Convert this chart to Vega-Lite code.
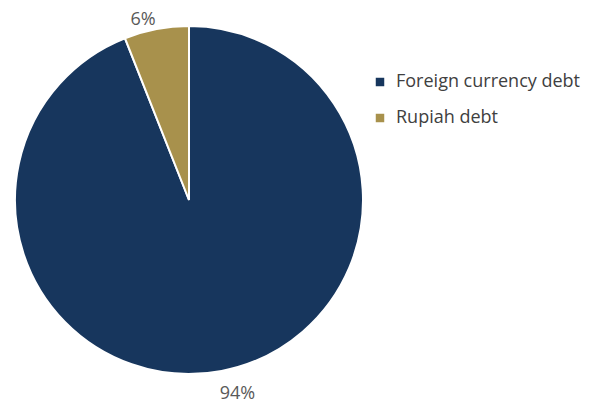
{
  "$schema": "https://vega.github.io/schema/vega-lite/v6.json",
  "width": 378,
  "height": 400,
  "padding": {"left": 0, "top": 0, "right": 219, "bottom": 5},
  "autosize": {"type": "none"},
  "background": "white",
  "data": {"values": [
    {"category": "Foreign currency debt", "value": 94, "label": "94%"},
    {"category": "Rupiah debt", "value": 6, "label": "6%"}
  ]},
  "encoding": {
    "theta": {"field": "value", "type": "quantitative", "stack": true, "sort": "ascending"}
  },
  "layer": [
    {
      "mark": {"type": "arc", "outerRadius": 174, "stroke": "white", "strokeWidth": 2},
      "encoding": {
        "color": {
          "field": "category", "type": "nominal",
          "scale": {"domain": ["Foreign currency debt", "Rupiah debt"], "range": ["#17365D", "#A8914C"]},
          "legend": {
            "title": null, "orient": "none", "legendX": 371, "legendY": 73,
            "symbolType": "square", "symbolSize": 72, "symbolStrokeWidth": 0,
            "labelFont": "Open Sans", "labelFontSize": 18, "labelColor": "#404040",
            "rowPadding": 18, "labelOffset": 7, "padding": 0, "labelLimit": 300
          }
        }
      }
    },
    {
      "mark": {"type": "text", "radius": 186, "font": "Open Sans", "fontSize": 18, "color": "#595959", "dx": -11, "dy": 3},
      "encoding": {
        "text": {"condition": {"test": "datum.category == 'Rupiah debt'", "field": "label"}, "value": ""},
        "order": {"field": "category"}
      }
    },
    {
      "mark": {"type": "text", "radius": 200, "font": "Open Sans", "fontSize": 18, "color": "#595959", "dx": 11, "dy": -2},
      "encoding": {
        "text": {"condition": {"test": "datum.category == 'Foreign currency debt'", "field": "label"}, "value": ""},
        "order": {"field": "category"}
      }
    }
  ]
}
